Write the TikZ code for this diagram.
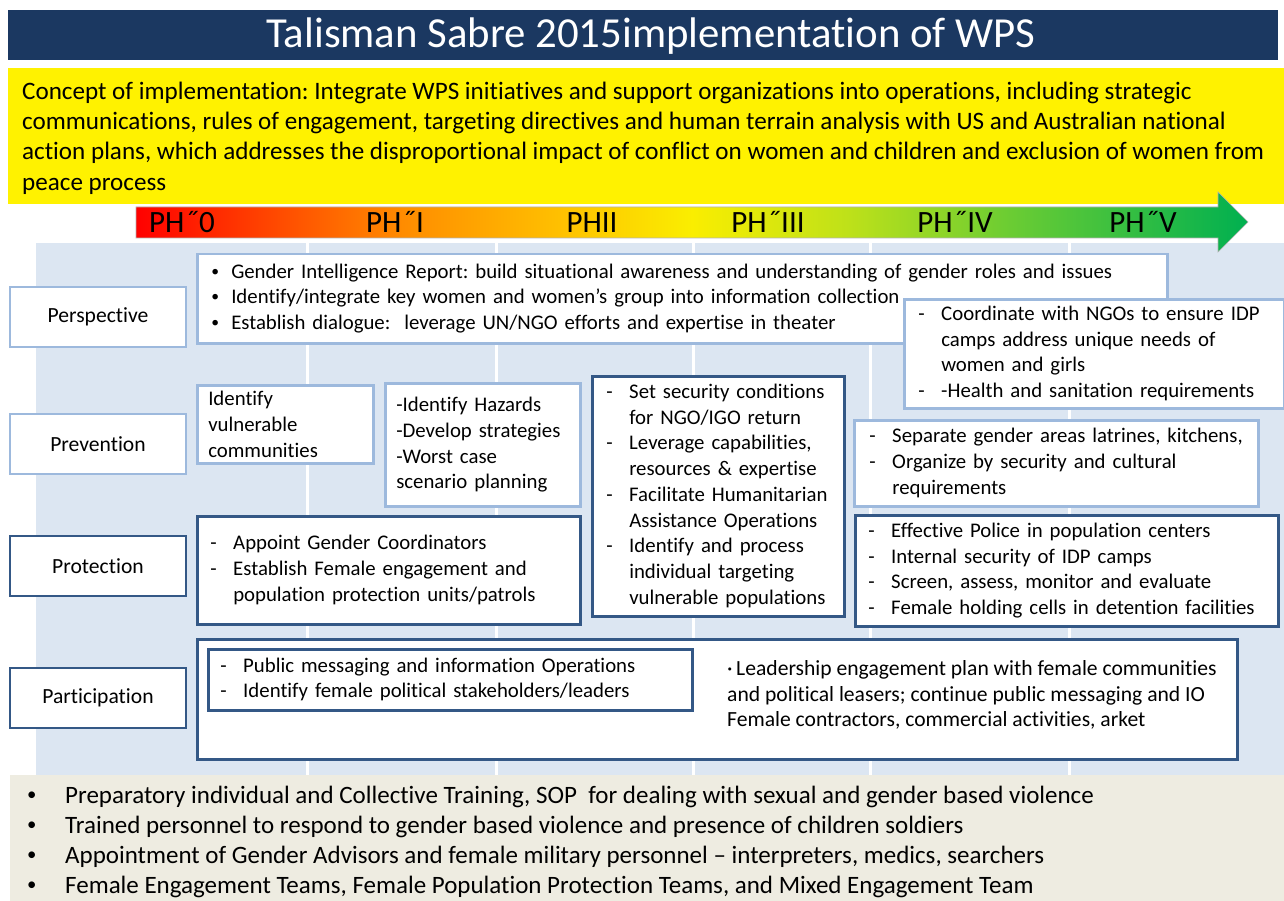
\documentclass[tikz,border=0pt]{standalone}
\usepackage{fontspec}
\setmainfont{Carlito}[Ligatures=NoCommon]
\usetikzlibrary{positioning}
\frenchspacing

\definecolor{titleblue}{RGB}{27,56,97}
\definecolor{panelblue}{RGB}{220,230,242}
\definecolor{lightedge}{RGB}{157,185,221}
\definecolor{darkedge}{RGB}{52,88,134}
\definecolor{notebeige}{RGB}{238,236,225}
\definecolor{phorange}{RGB}{255,140,0}
\definecolor{phgold}{RGB}{255,192,0}
\definecolor{phyellow}{RGB}{250,238,0}
\definecolor{phlime}{RGB}{190,225,25}
\definecolor{phleaf}{RGB}{110,205,50}
\definecolor{phgreen}{RGB}{0,176,80}

% phase bar colours, 25bp..75bp spans the arrow
\pgfdeclarehorizontalshading{phaseshade}{100bp}{color(0bp)=(red); color(25bp)=(red);
  color(37bp)=(phorange); color(44bp)=(phgold); color(50bp)=(phyellow);
  color(57bp)=(phlime); color(64bp)=(phleaf); color(75bp)=(phgreen); color(100bp)=(phgreen)}

\newcommand{\boxfont}{\fontsize{20.8}{25.7}\selectfont}
\newcommand{\bigfont}{\fontsize{25.1}{30.4}\selectfont}
% small bullet and hanging list: marker column + text column
\newcommand{\dotmark}{\raisebox{.1em}{\scalebox{.75}{•}}}
\newcommand{\marked}[2]{\begin{tabular}{@{}p{#1}@{}l@{}}#2\end{tabular}}

\tikzset{
  cell/.style={draw, fill=white, line width=2.5pt, anchor=north west, align=left,
    inner ysep=0pt, font=\boxfont},
  soft/.style={cell, draw=lightedge},
  firm/.style={cell, draw=darkedge},
  rowlabel/.style={draw, fill=white, line width=2.5pt, minimum width=176pt,
    minimum height=60pt, font=\fontsize{21.6}{26}\selectfont},
  phaselabel/.style={font=\fontsize{31}{31}\selectfont, inner sep=0pt, anchor=base}
}

\begin{document}
\begin{tikzpicture}[x=1pt,y=-1pt]
\useasboundingbox (0,0) rectangle (1284,901);

% title and concept
\fill[titleblue] (8,10) rectangle (1278,60);
\node[text=white, font=\fontsize{42.8}{43}\selectfont] (title) at (651,36)
  {Talisman Sabre 2015implementation of WPS};
\fill[yellow] (8,68) rectangle (1284,204);
\node[anchor=west, align=left, inner sep=0pt, font=\bigfont] (concept) at (22,138)
  {Concept of implementation: Integrate WPS initiatives and support organizations into operations, including strategic\\
   communications, rules of engagement, targeting directives and human terrain analysis with US and Australian national\\
   action plans, which addresses the disproportional impact of conflict on women and children and exclusion of women from\\
   peace process};

% background panels
\fill[panelblue] (36,243) rectangle (1284,775);
\foreach \x in {307,496,693,870,1069}
  \draw[white, line width=3pt] (\x,243) -- (\x,775);
\fill[notebeige] (10,775) rectangle (1284,901);

% phase arrow
\shadedraw[shading=phaseshade, draw=gray!60, line width=0.6pt]
  (136,207) -- (1218,207) -- (1218,192) -- (1248,222) -- (1218,252) -- (1218,238) -- (136,238) -- cycle;
\foreach \x/\t [count=\i from 0] in {182/PH˝0, 395/PH˝I, 592/PHII, 768/PH˝III, 955/PH˝IV, 1143/PH˝V}
  \node[phaselabel] (ph\i) at (\x,233) {\t};

% row headings
\node[rowlabel, draw=lightedge] (perspective) at (98,317) {Perspective};
\node[rowlabel, draw=lightedge] (prevention) at (98,444) {Prevention};
\node[rowlabel, draw=darkedge] (protection) at (98,566) {Protection};
\node[rowlabel, draw=darkedge] (participation) at (98,698) {Participation};

% perspective
\node[soft, minimum width=970pt, minimum height=89pt, inner xsep=14pt, text width=942pt] (intel) at (196,253)
  {\marked{20pt}{\dotmark & Gender Intelligence Report: build situational awareness and understanding of gender roles and issues\\
   \dotmark & Identify/integrate key women and women’s group into information collection\\
   \dotmark & Establish dialogue:~ leverage UN/NGO efforts and expertise in theater}};
\node[soft, minimum width=380pt, minimum height=109pt, inner xsep=14pt, text width=352pt] (ngo) at (903,298)
  {\marked{23pt}{- & Coordinate with NGOs to ensure IDP\\
   & camps address unique needs of\\
   & women and girls\\
   - & -Health and sanitation requirements}};

% prevention
\node[soft, minimum width=176pt, minimum height=78pt, inner xsep=11pt, text width=154pt] (vulnerable) at (196,384)
  {Identify\\vulnerable\\communities};
\node[soft, minimum width=195pt, minimum height=123pt, inner xsep=11pt, text width=173pt] (hazards) at (384,382)
  {-Identify Hazards\\-Develop strategies\\-Worst case\\scenario planning};
\node[firm, minimum width=252pt, minimum height=240pt, inner xsep=14pt, text width=224pt] (security) at (591,375)
  {\marked{23pt}{- & Set security conditions\\
   & for NGO/IGO return\\
   - & Leverage capabilities,\\
   & resources \& expertise\\
   - & Facilitate Humanitarian\\
   & Assistance Operations\\
   - & Identify and process\\
   & individual targeting\\
   & vulnerable populations}};
\node[soft, minimum width=404pt, minimum height=86pt, inner xsep=15pt, text width=374pt] (camps) at (853,419)
  {\marked{23pt}{- & Separate gender areas latrines, kitchens,\\
   - & Organize by security and cultural\\
   & requirements}};

% protection
\node[firm, minimum width=383pt, minimum height=108pt, inner xsep=13pt, text width=357pt] (coordinators) at (196,515)
  {\marked{23pt}{- & Appoint Gender Coordinators\\
   - & Establish Female engagement and\\
   & population protection units/patrols}};
\node[firm, minimum width=423pt, minimum height=111pt, inner xsep=13pt, text width=397pt] (police) at (854,514)
  {\marked{23pt}{- & Effective Police in population centers\\
   - & Internal security of IDP camps\\
   - & Screen, assess, monitor and evaluate\\
   - & Female holding cells in detention facilities}};

% participation
\node[firm, minimum width=1040pt, minimum height=120pt] (outreach) at (196,638) {};
\node[firm, minimum width=484pt, minimum height=61pt, inner xsep=12pt, text width=460pt] (messaging) at (207,648)
  {\marked{23pt}{- & Public messaging and information Operations\\
   - & Identify female political stakeholders/leaders}};
\node[anchor=west, align=left, inner sep=0pt, font=\fontsize{21.6}{25.5}\selectfont] (leaders) at (727,695)
  {·\,Leadership engagement plan with female communities\\
   and political leasers; continue public messaging and IO\\
   Female contractors, commercial activities, arket};

% training notes
\node[anchor=west, inner sep=0pt, font=\fontsize{25}{30}\selectfont] (training) at (27,842)
  {\marked{38pt}{\dotmark & Preparatory individual and Collective Training, SOP~ for dealing with sexual and gender based violence\\
   \dotmark & Trained personnel to respond to gender based violence and presence of children soldiers\\
   \dotmark & Appointment of Gender Advisors and female military personnel -- interpreters, medics, searchers\\
   \dotmark & Female Engagement Teams, Female Population Protection Teams, and Mixed Engagement Team}};
\end{tikzpicture}
\end{document}
